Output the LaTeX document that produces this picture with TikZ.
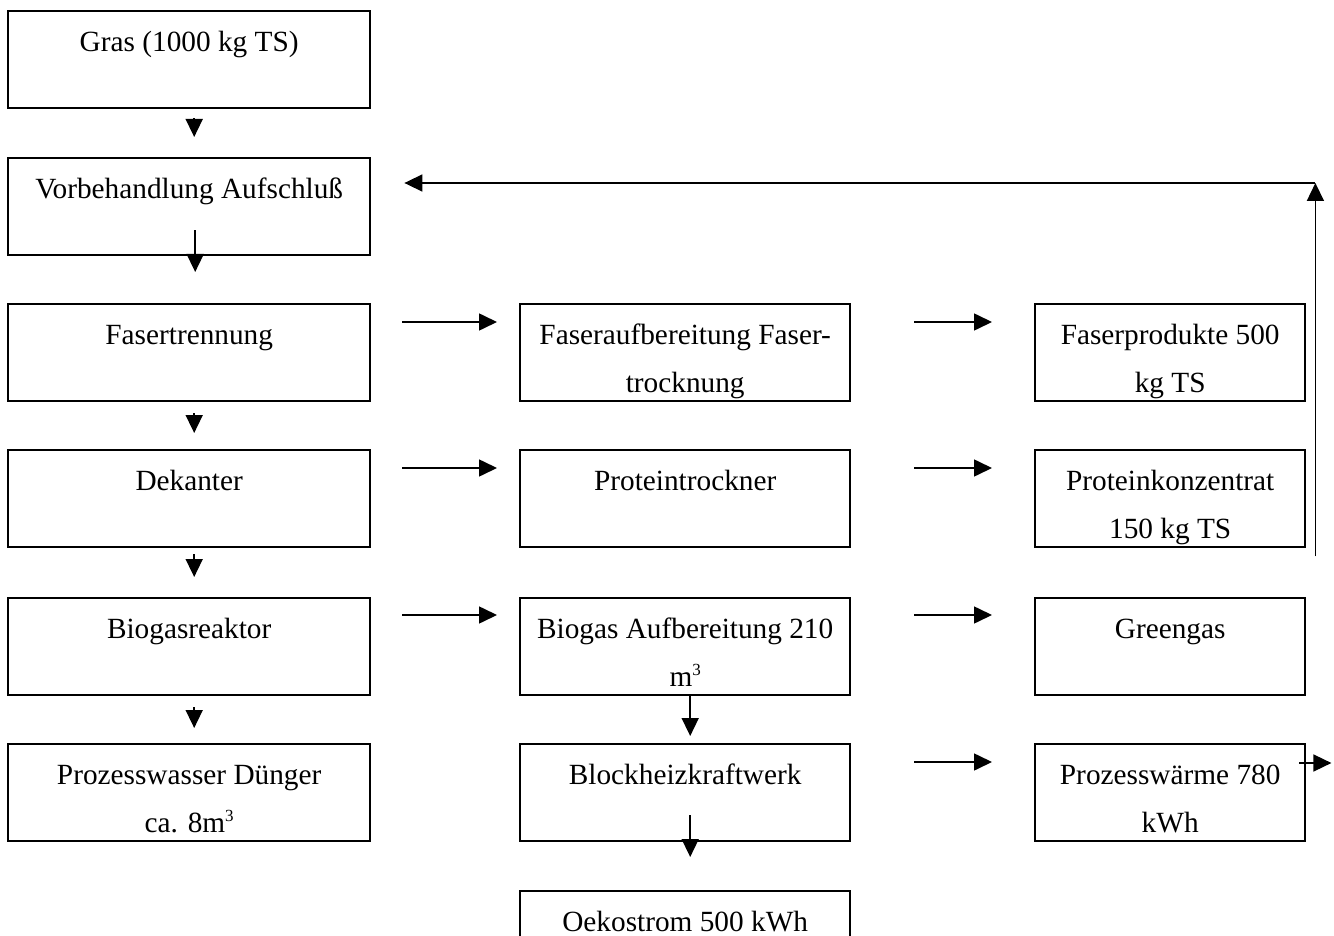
\documentclass[tikz,border=0pt]{standalone}
\usepackage{fontspec}
\setmainfont{Liberation Serif}
\usetikzlibrary{arrows.meta}
\newcommand{\boxtext}[2]{\parbox[t][97pt][t]{#1}{\centering\rule{0pt}{40pt}#2}}
\newcommand{\cubic}{\raisebox{11pt}{\fontsize{17}{17}\selectfont 3}}
\tikzset{
  procbox/.style={draw, line width=2.4pt, inner sep=0pt, anchor=north west,
    font=\fontsize{29.3}{48}\selectfont},
  arr/.style={line width=1.6pt, -{Triangle[length=18pt,width=17pt]}}
}
\begin{document}
\begin{tikzpicture}[x=1pt,y=-1pt]
\useasboundingbox (0,0) rectangle (1334,936);
\clip (0,0) rectangle (1334,936);
% column 1
\node[procbox] (gras) at (7,10) {\boxtext{362pt}{Gras (1000 kg TS)}};
\node[procbox] (vorb) at (7,157) {\boxtext{362pt}{Vorbehandlung Aufschluß}};
\node[procbox] (fas) at (7,303) {\boxtext{362pt}{Fasertrennung}};
\node[procbox] (dek) at (7,449) {\boxtext{362pt}{Dekanter}};
\node[procbox] (bio) at (7,597) {\boxtext{362pt}{Biogasreaktor}};
\node[procbox] (pw) at (7,743) {\boxtext{362pt}{Prozesswasser Dünger\\ca. 8m\cubic}};
% column 2
\node[procbox] (faser) at (519,303) {\boxtext{330pt}{Faseraufbereitung Faser-\\trocknung}};
\node[procbox] (prot) at (519,449) {\boxtext{330pt}{Proteintrockner}};
\node[procbox] (bga) at (519,597) {\boxtext{330pt}{Biogas Aufbereitung 210\\m\cubic}};
\node[procbox] (bhkw) at (519,743) {\boxtext{330pt}{Blockheizkraftwerk}};
\node[procbox] (oeko) at (519,890) {\boxtext{330pt}{Oekostrom 500 kWh}};
% column 3
\node[procbox] (fprod) at (1034,303) {\boxtext{270pt}{Faserprodukte 500\\kg TS}};
\node[procbox] (protk) at (1034,449) {\boxtext{270pt}{Proteinkonzentrat\\150 kg TS}};
\node[procbox] (green) at (1034,597) {\boxtext{270pt}{Greengas}};
\node[procbox] (pwarm) at (1034,743) {\boxtext{270pt}{Prozesswärme 780\\kWh}};
% vertical arrows column 1
\draw[arr, shorten <=9pt, shorten >=20pt] ([xshift=5pt]gras.south) -- ([xshift=5pt]vorb.north);
\draw[arr, shorten >=31pt] ([xshift=6pt,yshift=26pt]vorb.south) -- ([xshift=6pt]fas.north);
\draw[arr, shorten <=11pt, shorten >=16pt] ([xshift=5pt]fas.south) -- ([xshift=5pt]dek.north);
\draw[arr, shorten <=6pt, shorten >=20pt] ([xshift=5pt]dek.south) -- ([xshift=5pt]bio.north);
\draw[arr, shorten <=11pt, shorten >=15pt] ([xshift=5pt]bio.south) -- ([xshift=5pt]pw.north);
% horizontal arrows column 1 -> 2
\draw[arr, shorten <=31pt, shorten >=22pt] ([yshift=-19pt]fas.north east) -- ([yshift=-19pt]faser.north west);
\draw[arr, shorten <=31pt, shorten >=22pt] ([yshift=-19pt]dek.north east) -- ([yshift=-19pt]prot.north west);
\draw[arr, shorten <=31pt, shorten >=22pt] ([yshift=-18pt]bio.north east) -- ([yshift=-18pt]bga.north west);
% horizontal arrows column 2 -> 3
\draw[arr, shorten <=63pt, shorten >=42pt] ([yshift=-19pt]faser.north east) -- ([yshift=-19pt]fprod.north west);
\draw[arr, shorten <=63pt, shorten >=42pt] ([yshift=-19pt]prot.north east) -- ([yshift=-19pt]protk.north west);
\draw[arr, shorten <=63pt, shorten >=42pt] ([yshift=-18pt]bga.north east) -- ([yshift=-18pt]green.north west);
\draw[arr, shorten <=63pt, shorten >=42pt] ([yshift=-19pt]bhkw.north east) -- ([yshift=-19pt]pwarm.north west);
% vertical arrows column 2
\draw[arr, shorten >=7pt] ([xshift=5pt]bga.south) -- ([xshift=5pt]bhkw.north);
\draw[arr, shorten >=33pt] ([xshift=5pt,yshift=27pt]bhkw.south) -- ([xshift=5pt]oeko.north);
% outgoing arrow from Prozesswaerme
\coordinate (pwout) at ([xshift=25pt,yshift=-20pt]pwarm.north east);
\draw[arr] ([xshift=-7pt,yshift=-20pt]pwarm.north east) -- (pwout);
% feedback loop
\coordinate (fbstart) at ([xshift=9pt,yshift=-8pt]protk.south east);
\coordinate (vorbfb) at ([yshift=-26pt]vorb.north east);
\coordinate (fbcorner) at (fbstart |- vorbfb);
\draw[arr] (fbstart) -- (fbcorner);
\draw[arr, shorten >=33pt] (fbcorner) -- (vorbfb);
\end{tikzpicture}
\end{document}
